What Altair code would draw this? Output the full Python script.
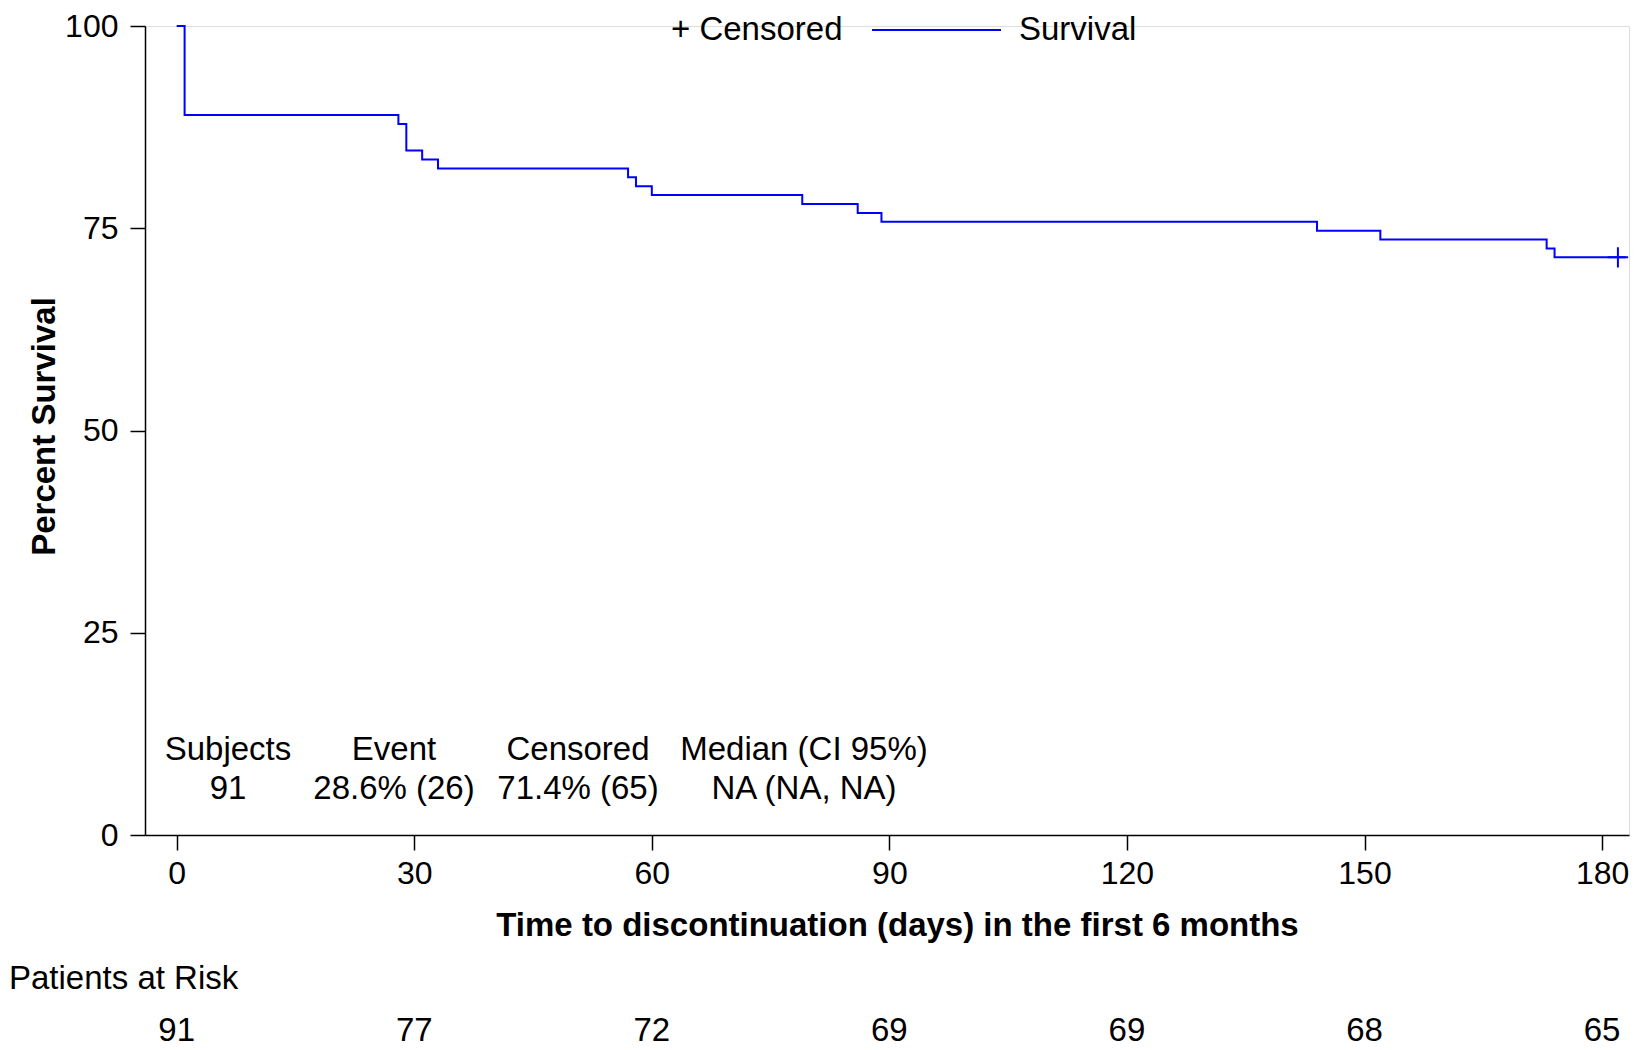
import altair as alt
import pandas as pd

# ---- data ----
step_days = [0, 1, 28, 29, 31, 33, 57, 58, 60, 79, 86, 89, 144, 152, 173, 174, 183]
step_surv = [100, 89.0, 87.9, 84.6, 83.5, 82.4, 81.3, 80.2, 79.1, 78.0, 76.9, 75.8, 74.7, 73.6, 72.5, 71.4, 71.4]
censor_days = [182]
censor_surv = [71.4]
risk_days = [0, 30, 60, 90, 120, 150, 180]
risk_counts = [91, 77, 72, 69, 69, 68, 65]
stat_headers = ["Subjects", "Event", "Censored", "Median (CI 95%)"]
stat_values = ["91", "28.6% (26)", "71.4% (65)", "NA (NA, NA)"]

# ---- layout constants (pixels) ----
W, H = 1484, 809
FONT = "Liberation Sans"
FS = 32      # tick labels
FT = 33      # other texts
stat_cx = [83, 249, 433, 659]
BLUE = "#0000FF"

xscale = alt.Scale(domain=[-4, 183.4], nice=False, zero=False)
yscale = alt.Scale(domain=[0, 100], nice=False)

surv_df = pd.DataFrame({"day": step_days, "surv": step_surv})
cens_df = pd.DataFrame({"day": censor_days, "surv": censor_surv})
risk_df = pd.DataFrame({"day": risk_days, "n": [str(v) for v in risk_counts]})
stat_df = pd.DataFrame({"cx": stat_cx, "head": stat_headers, "val": stat_values})

xaxis = alt.Axis(values=[0, 30, 60, 90, 120, 150, 180], title="Time to discontinuation (days) in the first 6 months",
                 titleFontWeight="bold", titleFontSize=FT, titleFont=FONT, titleColor="black",
                 titleX=752, titleY=90, titleBaseline="middle", titleAlign="center",
                 labelFontSize=FS, labelFont=FONT, labelColor="black", labelPadding=8,
                 tickSize=15, tickColor="black", tickWidth=1.5, domainColor="black", domainWidth=1.5,
                 grid=False, labelFlush=False)
yaxis = alt.Axis(values=[0, 25, 50, 75, 100], title="Percent Survival",
                 titleFontWeight="bold", titleFontSize=FT, titleFont=FONT, titleColor="black",
                 titleX=-101, titleY=400, titleBaseline="middle", titleAlign="center", titleAngle=-90,
                 labelFontSize=FS, labelFont=FONT, labelColor="black", labelPadding=12,
                 tickSize=15, tickColor="black", tickWidth=1.5, domainColor="black", domainWidth=1.5,
                 grid=False, labelFlush=False)

line = alt.Chart(surv_df).mark_line(interpolate="step-after", color=BLUE, strokeWidth=2).encode(
    x=alt.X("day:Q", scale=xscale, axis=xaxis),
    y=alt.Y("surv:Q", scale=yscale, axis=yaxis),
)

cens = alt.Chart(cens_df).mark_point(shape="M-1,0L1,0M0,-1L0,1", size=420, filled=False,
                                     color=BLUE, strokeWidth=2, opacity=1).encode(
    x=alt.X("day:Q", scale=xscale), y=alt.Y("surv:Q", scale=yscale))

risk = alt.Chart(risk_df).mark_text(font=FONT, fontSize=FT, color="black", baseline="middle").encode(
    x=alt.X("day:Q", scale=xscale), y=alt.value(1005), text="n:N")

risk_title = alt.Chart(pd.DataFrame({"t": ["Patients at Risk"]})).mark_text(
    font=FONT, fontSize=FT, color="black", align="left", baseline="middle").encode(
    x=alt.value(-136), y=alt.value(953), text="t:N")

heads = alt.Chart(stat_df).mark_text(font=FONT, fontSize=FT, color="black", baseline="middle").encode(
    x=alt.X("cx:Q", scale=None), y=alt.value(724), text="head:N")
vals = alt.Chart(stat_df).mark_text(font=FONT, fontSize=FT, color="black", baseline="middle").encode(
    x=alt.X("cx:Q", scale=None), y=alt.value(763), text="val:N")

leg_text = alt.Chart(pd.DataFrame({"x": [526, 874], "t": ["+ Censored", "Survival"]})).mark_text(
    font=FONT, fontSize=FT, color="black", align="left", baseline="middle").encode(
    x=alt.X("x:Q", scale=None), y=alt.value(4), text="t:N")
leg_line = alt.Chart(pd.DataFrame({"a": [0]})).mark_rule(color=BLUE, strokeWidth=2).encode(
    x=alt.value(727), x2=alt.value(856), y=alt.value(4))

chart = alt.layer(line, cens, risk, risk_title, heads, vals, leg_text, leg_line).properties(
    width=W, height=H,
    autosize=alt.AutoSizeParams(type="none"),
    padding={"left": 137, "top": 18, "right": 13, "bottom": 215},
).configure_view(stroke=None).configure(background="white")

chart.save("out.html", embed_options={"renderer": "svg", "actions": False})
